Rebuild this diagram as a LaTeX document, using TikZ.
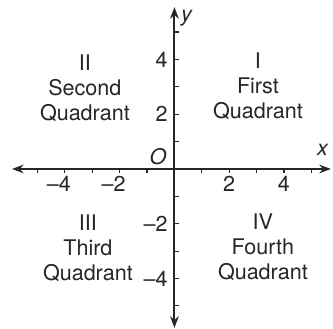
\documentclass[tikz,border=0pt]{standalone}
\usepackage{fontspec}
\setmainfont{TeX Gyre Heros}
\usetikzlibrary{arrows.meta}
\tikzset{
    axisline/.style={line width=1pt, <->, >={Stealth[length=6pt, width=4.5pt]}, black!85},
    tickmark/.style={semithick, black!85},
    quadname/.style={align=center}
}
\begin{document}
\begin{tikzpicture}[x=0.5cm, y=0.5cm, every node/.style={font=\fontsize{11.2}{13}\selectfont, text=black!85}]
    \useasboundingbox (-6.37,-5.84) rectangle (5.79,6.17);
    % Axes
    \coordinate (xl) at (-5.93,0);
    \coordinate (xr) at (5.71,0);
    \coordinate (yb) at (0,-5.8);
    \coordinate (yt) at (0,5.91);
    \draw[axisline] (xl) -- (xr);
    \draw[axisline] (yb) -- (yt);

    % Tick marks
    \foreach \t in {-5,...,-1,1,2,...,5} {
        \draw[tickmark] (\t,0) -- (\t,-0.15);
        \draw[tickmark] (0,\t) -- (0.15,\t);
    }

    % Tick labels
    \foreach \t in {2,4} {
        \node[below] (xp\t) at (\t,0) {\t};
        \node[below] (xn\t) at (-\t,0) {\llap{–}\t};
        \node[left] (yp\t) at (0,\t) {\t};
        \node[left] (yn\t) at (0,-\t) {–\t};
    }

    % Axis names and origin
    \node (xname) at (5.42,0.69) {\textit{x}};
    \node (yname) at (0.46,5.51) {\textit{y}};
    \node (orig) at (-0.6,0.44) {\textit{O}};

    % Quadrant names
    \node[quadname] (qone) at (3.05,3.03) {I\\First\\Quadrant};
    \node[quadname] (qtwo) at (-3.27,2.96) {II\\Second\\Quadrant};
    \node[quadname] (qthree) at (-3.16,-2.88) {III\\Third\\Quadrant};
    \node[quadname] (qfour) at (3.23,-2.85) {IV\\Fourth\\Quadrant};
\end{tikzpicture}
\end{document}
